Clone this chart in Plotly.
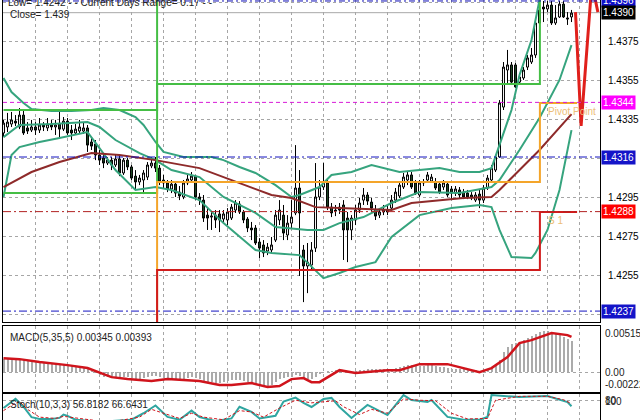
import plotly.graph_objects as go

# ---------------- candle data (15-minute bars) ----------------
candle_idx = list(range(143))
opens = [1.43283,1.43314,1.43329,1.43344,1.43314,1.43375,1.43309,1.43298,1.43314,1.43298,
         1.43324,1.43309,1.43329,1.43314,1.43329,1.43303,1.43344,1.43298,1.43283,1.43293,
         1.43293,1.43309,1.43237,1.43227,1.43170,1.43155,1.43129,1.43144,1.43119,1.43150,
         1.43078,1.43144,1.43109,1.43062,1.43032,1.43042,1.43057,1.43114,1.43129,1.43103,
         1.43042,1.43027,1.42996,1.43021,1.42980,1.42955,1.43027,1.43042,1.43062,1.42955,
         1.42939,1.42862,1.42852,1.42862,1.42868,1.42842,1.42837,1.42847,1.42888,1.42919,
         1.42878,1.42842,1.42796,1.42796,1.42724,1.42709,1.42678,1.42683,1.42734,1.42837,
         1.42862,1.42760,1.42821,1.42873,1.43001,1.42683,1.42601,1.42606,1.42693,1.42955,
         1.43006,1.43027,1.42903,1.42888,1.42903,1.42914,1.42847,1.42786,1.42837,1.42888,
         1.42939,1.42965,1.42929,1.42888,1.42862,1.42878,1.42888,1.42898,1.42939,1.42960,
         1.43006,1.43042,1.43068,1.43027,1.42965,1.43027,1.43042,1.43037,1.43032,1.43021,
         1.43006,1.43021,1.42996,1.42975,1.42991,1.42980,1.42975,1.42965,1.42939,1.42970,
         1.42939,1.43001,1.43042,1.43093,1.43160,1.43416,1.43606,1.43632,1.43632,1.43544,
         1.43565,1.43621,1.43647,1.43683,1.43847,1.43929,1.43919,1.43939,1.43847,1.43878,
         1.43944,1.43873,1.43878]
highs = [1.43350,1.43386,1.43391,1.43375,1.43411,1.43401,1.43339,1.43350,1.43339,1.43360,
         1.43339,1.43360,1.43350,1.43350,1.43401,1.43365,1.43360,1.43324,1.43329,1.43350,
         1.43339,1.43324,1.43257,1.43247,1.43196,1.43170,1.43160,1.43160,1.43170,1.43165,
         1.43155,1.43155,1.43119,1.43093,1.43068,1.43093,1.43134,1.43160,1.43160,1.43119,
         1.43068,1.43042,1.43042,1.43037,1.43011,1.43042,1.43068,1.43083,1.43068,1.42975,
         1.42965,1.42898,1.42878,1.42888,1.42888,1.42888,1.42898,1.42919,1.42939,1.42934,
         1.42888,1.42852,1.42827,1.42811,1.42744,1.42734,1.42719,1.42750,1.42888,1.42939,
         1.42914,1.42862,1.42939,1.43221,1.43093,1.42709,1.42719,1.42724,1.43129,1.43042,
         1.43129,1.43052,1.42924,1.42914,1.42924,1.42939,1.42878,1.42862,1.42914,1.42950,
         1.43001,1.42980,1.42950,1.42914,1.42898,1.42914,1.42914,1.42965,1.43001,1.43032,
         1.43078,1.43083,1.43083,1.43042,1.43042,1.43047,1.43083,1.43073,1.43052,1.43037,
         1.43042,1.43037,1.43011,1.43011,1.43006,1.42996,1.42991,1.42980,1.42980,1.42991,
         1.43016,1.43068,1.43119,1.43170,1.43452,1.43647,1.43709,1.43647,1.43642,1.43591,
         1.43621,1.43683,1.43719,1.43873,1.43960,1.43960,1.43960,1.43960,1.43939,1.43960,
         1.43960,1.43903,1.43914]
lows = [1.43262,1.43288,1.43314,1.43319,1.43303,1.43273,1.43278,1.43288,1.43273,1.43283,
        1.43293,1.43293,1.43298,1.43273,1.43262,1.43293,1.43273,1.43247,1.43273,1.43283,
        1.43278,1.43186,1.43196,1.43144,1.43119,1.43103,1.43119,1.43093,1.43109,1.43062,
        1.43068,1.43093,1.43042,1.42991,1.43016,1.42970,1.43042,1.43103,1.43083,1.43016,
        1.43001,1.42980,1.42975,1.42955,1.42939,1.42944,1.43016,1.43032,1.42939,1.42914,
        1.42827,1.42786,1.42786,1.42796,1.42775,1.42827,1.42811,1.42837,1.42873,1.42868,
        1.42821,1.42775,1.42734,1.42709,1.42642,1.42647,1.42657,1.42668,1.42724,1.42811,
        1.42734,1.42734,1.42796,1.42862,1.42550,1.42416,1.42462,1.42580,1.42673,1.42939,
        1.42991,1.42888,1.42852,1.42857,1.42868,1.42632,1.42621,1.42734,1.42811,1.42873,
        1.42914,1.42914,1.42878,1.42837,1.42847,1.42862,1.42862,1.42888,1.42924,1.42950,
        1.42996,1.43016,1.42996,1.42965,1.42955,1.43011,1.43027,1.43027,1.42991,1.42970,
        1.42991,1.42955,1.42939,1.42960,1.42950,1.42944,1.42944,1.42939,1.42929,1.42898,
        1.42924,1.42991,1.43032,1.43083,1.43155,1.43401,1.43539,1.43529,1.43514,1.43529,
        1.43555,1.43606,1.43637,1.43668,1.43837,1.43852,1.43903,1.43837,1.43837,1.43873,
        1.43873,1.43837,1.43852]
closes = [1.43334,1.43339,1.43350,1.43334,1.43375,1.43283,1.43293,1.43314,1.43298,1.43324,
          1.43314,1.43329,1.43314,1.43324,1.43303,1.43344,1.43283,1.43283,1.43303,1.43314,
          1.43309,1.43221,1.43216,1.43170,1.43144,1.43129,1.43144,1.43119,1.43150,1.43078,
          1.43144,1.43109,1.43052,1.43032,1.43052,1.43078,1.43119,1.43129,1.43103,1.43032,
          1.43027,1.42996,1.43021,1.42975,1.42960,1.43027,1.43047,1.43062,1.42955,1.42939,
          1.42847,1.42847,1.42857,1.42837,1.42837,1.42868,1.42878,1.42903,1.42924,1.42878,
          1.42837,1.42796,1.42786,1.42719,1.42693,1.42668,1.42698,1.42709,1.42862,1.42888,
          1.42770,1.42821,1.42852,1.43001,1.42873,1.42601,1.42621,1.42683,1.42955,1.43006,
          1.43032,1.42903,1.42873,1.42883,1.42888,1.42786,1.42786,1.42847,1.42888,1.42924,
          1.42965,1.42934,1.42898,1.42857,1.42878,1.42888,1.42878,1.42939,1.42980,1.43016,
          1.43057,1.43068,1.43006,1.42975,1.43027,1.43032,1.43068,1.43057,1.43001,1.42980,
          1.43027,1.42965,1.42975,1.42996,1.42965,1.42955,1.42955,1.42950,1.42965,1.42939,
          1.43001,1.43052,1.43103,1.43160,1.43437,1.43621,1.43632,1.43544,1.43519,1.43570,
          1.43606,1.43668,1.43683,1.43847,1.43914,1.43919,1.43939,1.43847,1.43873,1.43944,
          1.43878,1.43868,1.43898]

# ---------------- Bollinger bands / moving average (read at sample bars) ----------------
bb_upper_idx = [0, 2, 5, 7, 12, 17, 22, 25, 29, 33, 35, 38, 40, 45, 52, 55, 59, 63, 68, 72, 74, 77, 79,
                82, 87, 92, 95, 99, 104, 109, 114, 119, 122, 124, 127, 129, 132, 134, 137]
bb_upper = [1.43565, 1.43493, 1.43437, 1.43406, 1.43396, 1.43396, 1.43401, 1.43411, 1.43401, 1.43365,
            1.43324, 1.43237, 1.43186, 1.43160, 1.43160, 1.43144, 1.43109, 1.43078, 1.43016, 1.42955,
            1.42965, 1.42991, 1.43006, 1.43068, 1.43083, 1.43119, 1.43103, 1.43083, 1.43093, 1.43103,
            1.43083, 1.43083, 1.43103, 1.43221, 1.43401, 1.43580, 1.43760, 1.43965, 1.44120]
bb_mid_idx = [0, 4, 12, 21, 24, 28, 34, 38, 42, 49, 55, 63, 68, 76, 80, 84, 90, 97, 104, 114, 122,
              124, 129, 134, 139, 142]
bb_mid = [1.43262, 1.43324, 1.43329, 1.43339, 1.43314, 1.43247, 1.43180, 1.43144, 1.43093, 1.43057,
          1.42955, 1.42873, 1.42801, 1.42786, 1.42786, 1.42821, 1.42852, 1.42924, 1.42980, 1.42975,
          1.43006, 1.43042, 1.43196, 1.43360, 1.43555, 1.43734]
bb_lower_idx = [0, 2, 4, 9, 14, 21, 24, 28, 33, 38, 42, 49, 55, 63, 67, 74, 80, 84, 88, 93, 97, 104,
                112, 119, 122, 124, 127, 132, 133, 136, 139, 142]
bb_lower = [1.42955, 1.43170, 1.43211, 1.43237, 1.43257, 1.43288, 1.43206, 1.43093, 1.42991, 1.43006,
            1.42991, 1.42939, 1.42821, 1.42683, 1.42668, 1.42657, 1.42539, 1.42565, 1.42596, 1.42621,
            1.42750, 1.42862, 1.42898, 1.42914, 1.42903, 1.42786, 1.42647, 1.42642, 1.42668, 1.42786,
            1.42991, 1.43298]
ma_idx = [0, 7, 14, 22, 29, 38, 49, 55, 62, 67, 72, 78, 84, 97, 102, 115, 122, 124, 134, 142]
ma_vals = [1.43006, 1.43083, 1.43134, 1.43180, 1.43170, 1.43144, 1.43103, 1.43057, 1.43006, 1.42965,
           1.42950, 1.42903, 1.42898, 1.42888, 1.42924, 1.42950, 1.42955, 1.42991, 1.43196, 1.43380]

# ---------------- daily pivot levels (steps at day boundaries) ----------------
day_start = [0, 38.4, 134.1, 143.4]
pivot_pp = [1.4200, 1.43032, 1.43437, 1.43437]
pivot_s1 = [1.4190, 1.42580, 1.42878, 1.42878]
pivot_r1 = [1.42975, 1.43534, 1.4420, 1.4420]
pivot_r2 = [1.43401, 1.4420, 1.4420, 1.4420]

# horizontal levels
levels = [1.4396, 1.4344, 1.4316, 1.4288, 1.4237]
level_colors = ['#1010B8', '#D81BD8', '#1414C0', '#B22222', '#1414C0']
level_dash = ['6px,3px,2px,3px', '4px,3px', '8px,3px,2px,3px', '8px,3px,2px,3px', '8px,3px,2px,3px']
label_bg = ['#1010C8', '#FF00FF', '#1414C8', '#FF0000', '#1414C8']
bid = 1.4390

# analyst forecast stroke
fc_idx = [143.0, 144.4, 146.9]
fc_val = [1.43903, 1.43319, 1.44000]
fc2_idx = [147.6, 148.6]
fc2_val = [1.44000, 1.43903]

# ---------------- MACD(5,35,5) ----------------
macd_hist = [0.0015,0.0015,0.0015,0.0014,0.0014,0.0014,0.0013,
             0.0012,0.0011,0.0011,0.0010,0.0010,0.0009,0.0009,
             0.0008,0.0008,0.0008,0.0007,0.0007,0.0006,0.0005,
             0.0003,0.0001,-0.0001,-0.0003,-0.0005,-0.0005,-0.0006,
             -0.0005,-0.0007,-0.0006,-0.0006,-0.0007,-0.0008,-0.0008,-0.0007,-0.0005,-0.0004,-0.0004,
             -0.0006,-0.0007,-0.0008,-0.0008,-0.0009,-0.0009,-0.0008,-0.0007,-0.0006,-0.0007,-0.0008,
             -0.0010,-0.0011,-0.0011,-0.0012,-0.0012,-0.0011,-0.0010,-0.0009,-0.0009,-0.0009,-0.0010,
             -0.0011,-0.0012,-0.0013,-0.0014,-0.0015,-0.0015,-0.0014,-0.0011,
             -0.0008,-0.0007,-0.0006,-0.0005,-0.0003,-0.0004,-0.0007,-0.0008,-0.0008,-0.0005,-0.0002,
             0.0000,0.0001,0.0001,0.0002,0.0002,0.0001,0.0000,0.0000,0.0001,0.0002,
             0.0002,0.0003,0.0003,0.0003,0.0003,0.0003,0.0003,0.0004,0.0005,0.0006,
             0.0007,0.0008,0.0008,0.0007,0.0007,0.0007,0.0008,0.0008,0.0007,0.0006,
             0.0006,0.0005,0.0004,0.0004,0.0003,0.0003,0.0002,0.0002,0.0002,0.0001,
             0.0002,0.0003,0.0005,0.0008,0.0014,0.0022,0.0028,0.0031,0.0033,0.0034,
             0.0036,0.0038,0.0040,0.0043,0.0045,0.0046,0.0046,0.0045,0.0043,0.0041,
             0.0039,0.0037,0.00345]
macd_sig_idx = [0, 4, 9, 16, 21, 27, 31, 37, 41, 46, 49, 54, 57, 62, 66, 69, 72, 75, 77, 79, 84, 88,
                96, 99, 104, 111, 115, 119, 122, 126, 129, 132, 137, 141, 142]
macd_sig = [0.00156, 0.00145, 0.00112, 0.00078, 0.00045, -0.00056, -0.00078, -0.00100, -0.00078,
            -0.00089, -0.00100, -0.00145, -0.00145, -0.00123, -0.00167, -0.00156, -0.00078, -0.00067,
            -0.00112, -0.00112, 0.00022, -0.00011, 0.00022, 0.00022, 0.00089, 0.00089, 0.00045, 0.0,
            0.00045, 0.00168, 0.00324, 0.00357, 0.00436, 0.00413, 0.00393]

# ---------------- Stochastic(10,3,3) ----------------
stoch_main_idx = [0, 2, 3, 5, 7, 9, 12, 14, 15, 16, 18, 22, 27, 32, 35, 38, 41, 44, 47, 49, 53, 57, 59,
                  62, 64, 68, 70, 73, 75, 77, 80, 82, 84, 87, 91, 96, 100, 102, 106, 107, 111, 115, 119,
                  121, 122, 129, 136, 141, 142]
stoch_main = [50, 75, 85, 55, 15, 8, 8, 12, 25, 20, 5, 0, 0, 5, 30, 60, 16, 5, 40, 15, 0, 10, 55,
              35, 10, 20, 75, 90, 70, 54, 85, 89, 54, 12, 62, 23, 100, 81, 73, 81, 16, 5, 5,
              16, 100, 92, 96, 73, 56.8182]
stoch_sig_idx = [0, 2, 4, 6, 9, 13, 15, 18, 23, 29, 34, 37, 40, 44, 47, 50, 55, 59, 62, 65, 69, 73,
                 77, 80, 83, 85, 89, 92, 96, 100, 104, 108, 112, 116, 121, 123, 129, 136, 140, 142]
stoch_sig = [40, 60, 75, 45, 15, 10, 18, 12, 2, 2, 15, 45, 30, 10, 30, 15, 5, 40, 35, 15, 50, 80,
             70, 75, 78, 55, 25, 45, 30, 85, 80, 78, 30, 8, 10, 80, 95, 95, 82, 66.6431]

# ---------------- figure ----------------
TEAL = '#36A47E'
GRID = '#A6A6A6'
fig = go.Figure()

for xs, ys in [(bb_upper_idx, bb_upper), (bb_mid_idx, bb_mid), (bb_lower_idx, bb_lower)]:
    fig.add_trace(go.Scatter(x=xs, y=ys, mode='lines', line=dict(color=TEAL, width=2),
                             xaxis='x', yaxis='y', hoverinfo='skip'))
fig.add_trace(go.Scatter(x=ma_idx, y=ma_vals, mode='lines', line=dict(color='#8E2A2A', width=2),
                         xaxis='x', yaxis='y', hoverinfo='skip'))

# pivot step lines
for vals, col in [(pivot_r2, '#45BE45'), (pivot_r1, '#45BE45'), (pivot_pp, '#F4A52A'), (pivot_s1, '#D11C1C')]:
    fig.add_trace(go.Scatter(x=day_start, y=vals, mode='lines', line=dict(color=col, width=2, shape='hv'),
                             xaxis='x', yaxis='y', hoverinfo='skip'))

fig.add_trace(go.Candlestick(x=candle_idx, open=opens, high=highs, low=lows, close=closes,
                             increasing=dict(line=dict(color='black', width=1), fillcolor='white'),
                             decreasing=dict(line=dict(color='black', width=1), fillcolor='#1E4A26'),
                             whiskerwidth=0, xaxis='x', yaxis='y', hoverinfo='skip'))

fig.add_trace(go.Scatter(x=fc_idx, y=fc_val, mode='lines', line=dict(color='#E0201C', width=3),
                         xaxis='x', yaxis='y', hoverinfo='skip'))
fig.add_trace(go.Scatter(x=fc2_idx, y=fc2_val, mode='lines', line=dict(color='#E0201C', width=3),
                         xaxis='x', yaxis='y', hoverinfo='skip'))

# MACD
fig.add_trace(go.Bar(x=candle_idx, y=macd_hist, marker=dict(color='#ABABAB', line=dict(width=0)),
                     width=0.5, xaxis='x2', yaxis='y2', hoverinfo='skip'))
fig.add_trace(go.Scatter(x=macd_sig_idx, y=macd_sig, mode='lines', line=dict(color='#D0141C', width=2.5),
                         xaxis='x2', yaxis='y2', hoverinfo='skip'))

# Stochastic
fig.add_trace(go.Scatter(x=stoch_main_idx, y=stoch_main, mode='lines', line=dict(color='#2FA5A0', width=2),
                         xaxis='x3', yaxis='y3', hoverinfo='skip'))
fig.add_trace(go.Scatter(x=stoch_sig_idx, y=stoch_sig, mode='lines',
                         line=dict(color='#D0141C', width=1, dash='3px,2px'),
                         xaxis='x3', yaxis='y3', hoverinfo='skip'))

shapes = []
for lv, c, d in zip(levels, level_colors, level_dash):
    shapes.append(dict(type='line', xref='paper', x0=0, x1=1, yref='y', y0=lv, y1=lv,
                       line=dict(color=c, width=1, dash=d), layer='above'))
shapes.append(dict(type='line', xref='paper', x0=0, x1=1, yref='y', y0=bid, y1=bid,
                   line=dict(color='#A8A8A8', width=1), layer='below'))

annotations = []
for lv, bg in zip(levels, label_bg):
    annotations.append(dict(xref='paper', x=1, xanchor='left', xshift=1, yref='y', y=lv,
                            text='%.4f' % lv, showarrow=False, bgcolor=bg, borderpad=1,
                            font=dict(color='white', size=10, family='Liberation Sans')))
annotations.append(dict(xref='paper', x=1, xanchor='left', xshift=1, yref='y', y=bid,
                        text='%.4f' % bid, showarrow=False, bgcolor='black', borderpad=1,
                        font=dict(color='white', size=10, family='Liberation Sans')))
txt = dict(size=10, family='Liberation Sans', color='#222222')
annotations += [
    dict(xref='paper', x=0, xanchor='left', xshift=3, yref='paper', y=1 - 3/420, yanchor='middle',
         text='Low= 1.4242 - - Current Days Range= 0.17 - -', showarrow=False, font=txt),
    dict(xref='paper', x=0, xanchor='left', xshift=5, yref='paper', y=1 - 15/420, yanchor='middle',
         text='Close= 1.439', showarrow=False, font=txt),
    dict(xref='x', x=135.5, xanchor='left', yref='y', y=1.43437, yanchor='top', yshift=-1,
         text='Pivot Point', showarrow=False, font=dict(size=10, family='Liberation Sans', color='#EDBE78')),
    dict(xref='x', x=135.5, xanchor='left', yref='y', y=1.42878, yanchor='top', yshift=-1,
         text='S 1', showarrow=False, font=dict(size=10, family='Liberation Sans', color='#EDBE78')),
    dict(xref='paper', x=0, xanchor='left', xshift=5, yref='paper', y=1 - 337/420, yanchor='middle',
         text='MACD(5,35,5) 0.00345 0.00393', showarrow=False, font=txt),
    dict(xref='paper', x=0, xanchor='left', xshift=5, yref='paper', y=1 - 404/420, yanchor='middle',
         text='Stoch(10,3,3) 56.8182 66.6431', showarrow=False, font=txt),
    dict(xref='paper', x=1, xanchor='left', xshift=3, yref='y2', y=0.00515, yanchor='top',
         text='0.00515', showarrow=False, font=txt),
    dict(xref='paper', x=1, xanchor='left', xshift=3, yref='y2', y=0.0, yanchor='middle',
         text='0.00', showarrow=False, font=txt),
    dict(xref='paper', x=1, xanchor='left', xshift=3, yref='y2', y=-0.00222, yanchor='bottom',
         text='-0.00222', showarrow=False, font=txt),
    dict(xref='paper', x=1, xanchor='left', xshift=3, yref='y3', y=104, yanchor='top',
         text='100', showarrow=False, font=txt),
    dict(xref='paper', x=1, xanchor='left', xshift=3, yref='y3', y=80, yanchor='middle',
         text='80', showarrow=False, font=txt),
]

grid_x = list(range(8, 149, 8))
xcommon = dict(range=[-0.125, 149.125], tickvals=grid_x, showticklabels=False, showgrid=True,
               gridcolor=GRID, griddash='3px,3px', gridwidth=1, zeroline=False, showline=True,
               mirror=True, linecolor='black', linewidth=1, fixedrange=True)
price_ticks = [1.4395, 1.4375, 1.4355, 1.4335, 1.4315, 1.4295, 1.4275, 1.4255, 1.4235]
price_text = ['', '1.4375', '1.4355', '1.4335', '', '1.4295', '1.4275', '1.4255', '']

fig.update_layout(
    width=640, height=420, margin=dict(l=3, r=40, t=0, b=0),
    paper_bgcolor='white', plot_bgcolor='white', showlegend=False,
    font=dict(family='Liberation Sans', size=10, color='black'),
    xaxis=dict(xcommon, anchor='y', rangeslider=dict(visible=False)),
    xaxis2=dict(xcommon, anchor='y2', matches='x'),
    xaxis3=dict(xcommon, anchor='y3', matches='x'),
    yaxis=dict(domain=[98/420, 1], range=[1.42314, 1.43965], side='right', tickvals=price_ticks,
               ticktext=price_text, ticks='outside', ticklen=5, tickcolor='white', showgrid=True,
               gridcolor=GRID, griddash='3px,3px', zeroline=False, showline=True, mirror=True,
               linecolor='black', tickfont=dict(size=10, color='black'), fixedrange=True),
    yaxis2=dict(domain=[28/420, 94/420], range=[-0.00222, 0.00515], side='right', tickvals=[0],
                showticklabels=False, showgrid=True, gridcolor=GRID, griddash='3px,3px',
                zeroline=False, showline=True, mirror=True, linecolor='black', fixedrange=True),
    yaxis3=dict(domain=[0, 26/420], range=[4, 104], side='right', tickvals=[80],
                showticklabels=False, showgrid=True, gridcolor=GRID, griddash='3px,3px',
                zeroline=False, showline=True, mirror=True, linecolor='black', fixedrange=True),
    bargap=0, shapes=shapes, annotations=annotations,
)

fig.write_html('out.html', config={'displayModeBar': False, 'staticPlot': True},
               post_script="document.body.style.margin='0';document.body.style.overflow='hidden';")
